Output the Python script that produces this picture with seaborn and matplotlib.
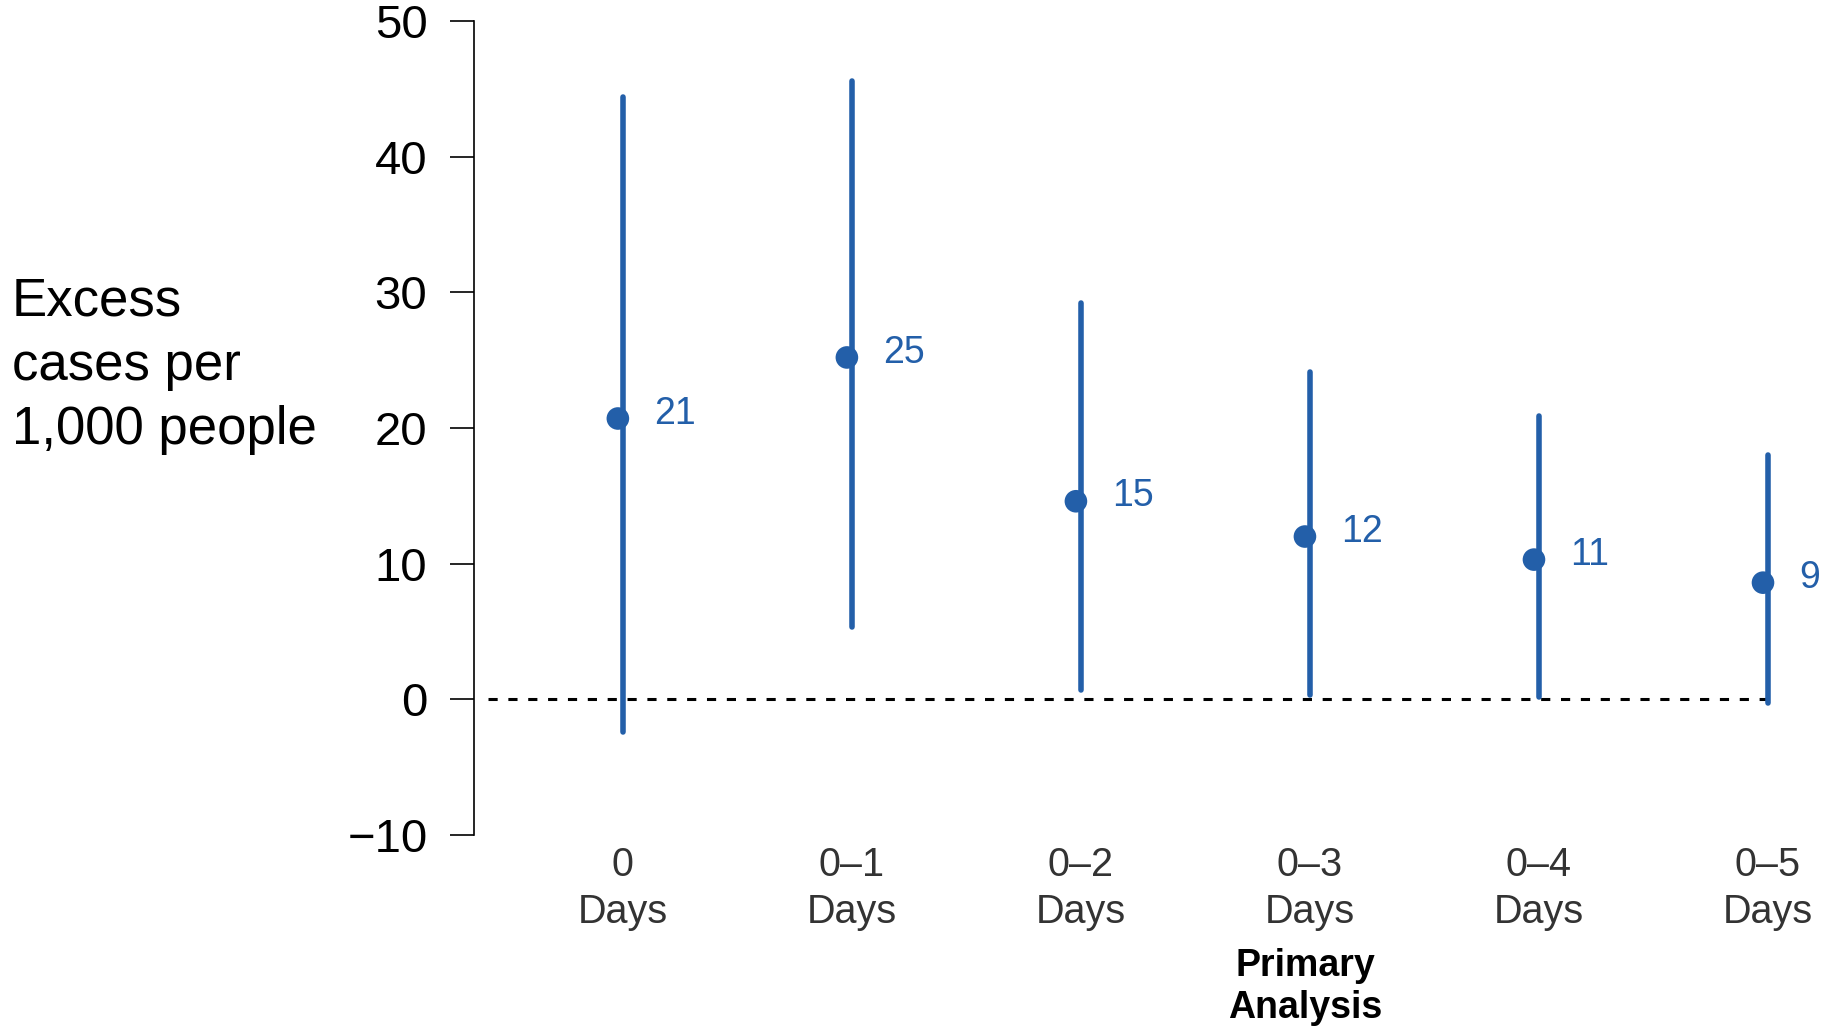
import matplotlib
matplotlib.use("Agg")
import matplotlib.pyplot as plt
import matplotlib.transforms as mtransforms
import seaborn as sns
import pandas as pd

# ---- data ----
categories = ["0\nDays", "0\u20131\nDays", "0\u20132\nDays", "0\u20133\nDays", "0\u20134\nDays", "0\u20135\nDays"]
estimates = [20.7, 25.2, 14.6, 12.0, 10.3, 8.6]
lower = [-2.4, 5.3, 0.7, 0.3, 0.2, -0.3]
upper = [44.4, 45.6, 29.2, 24.1, 20.9, 18.0]
value_labels = ["21", "25", "15", "12", "11", "9"]
y_ticks = [-10, 0, 10, 20, 30, 40, 50]
y_label = "Excess\ncases per\n1,000 people"
primary_label = "Primary\nAnalysis"
primary_index = 3

BLUE = "#235FA9"

sns.set_theme(style="white")
plt.rcParams["font.family"] = ["Liberation Sans", "DejaVu Sans"]

df = pd.DataFrame({"cat": categories, "est": estimates, "lo": lower, "hi": upper})
pos = list(range(len(categories)))

fig = plt.figure(figsize=(18.32, 10.26), dpi=100)
ax = fig.add_axes([474 / 1832, 1 - 835 / 1026, 1 - 474 / 1832, (835 - 21) / 1026])

# reference line
ax.axhline(0, xmin=(488 - 474) / 1358, xmax=(1768 - 474) / 1358, color="black",
           lw=2.2, ls=(0, (3.0, 3.5)), zorder=1)

# intervals
ax.vlines(pos, df["lo"], df["hi"], color=BLUE, lw=4.0, capstyle="round", zorder=2)

# points
sns.scatterplot(data=df, x=pos, y="est", color=BLUE, s=265, edgecolor="none",
                zorder=3, ax=ax, legend=False)
off = mtransforms.ScaledTranslation(-5 / 100, 0, fig.dpi_scale_trans)
ax.collections[-1].set_offset_transform(ax.transData + off)

for p, v, lab in zip(pos, estimates, value_labels):
    ax.annotate(lab, (p, v), xytext=(22.5, 3.5), textcoords="offset points",
                ha="left", va="center", fontsize=27, color=BLUE)

ax.set_xlim(-0.65, 5 + (1832 - 1768) / 229)
ax.set_ylim(-10, 50)
ax.set_yticks(y_ticks)
ax.set_yticklabels([f"{t:d}".replace("-", "\u2212") for t in y_ticks], fontsize=34, color="black")
ax.set_xticks(pos)
ax.set_xticklabels(categories, fontsize=28.5, color="#333333", linespacing=1.3)
ax.tick_params(axis="y", length=17.5, width=1.2, pad=16, color="black", left=True)
ax.tick_params(axis="x", length=0, pad=8)
ax.set_xlabel("")
ax.set_ylabel("")

for s in ["top", "right", "bottom"]:
    ax.spines[s].set_visible(False)
ax.spines["left"].set_color("black")
ax.spines["left"].set_linewidth(1.2)
ax.patch.set_alpha(0)

fig.text(12 / 1832, 1 - 366 / 1026, y_label, ha="left", va="center",
         fontsize=38, color="black", linespacing=1.37)

tr = mtransforms.blended_transform_factory(ax.transData, fig.transFigure)
ax.text(primary_index - 0.02, 1 - 987 / 1026, primary_label, transform=tr,
        ha="center", va="center", fontsize=27, fontweight="bold", color="black",
        linespacing=1.23, clip_on=False)

fig.savefig("out.png", dpi=100)
